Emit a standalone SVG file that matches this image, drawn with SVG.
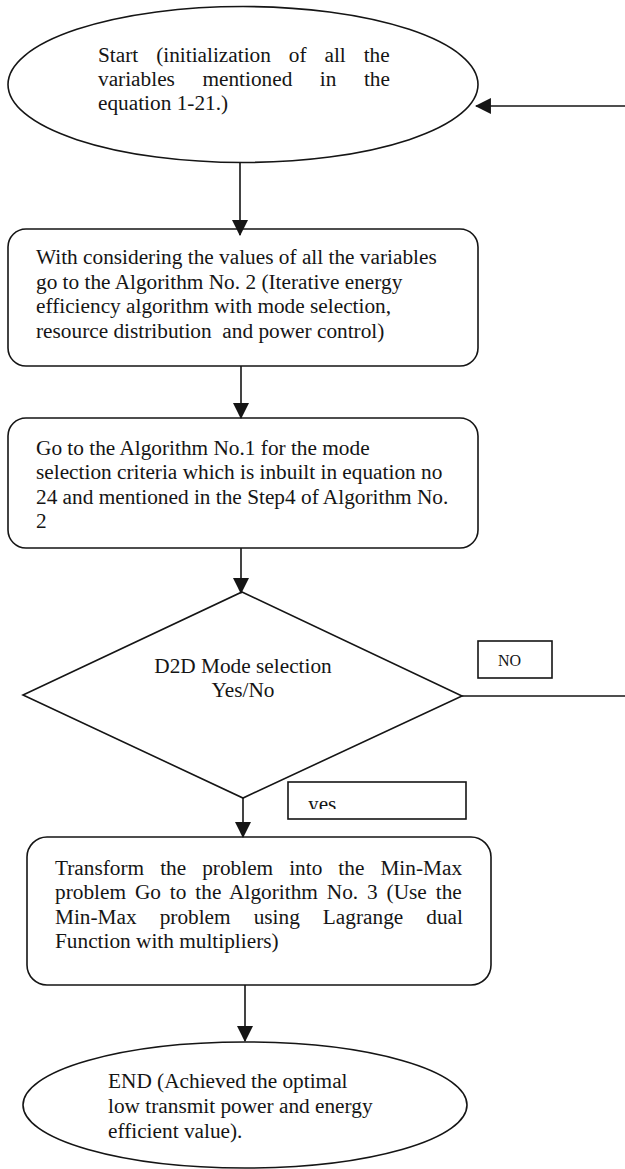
<svg xmlns="http://www.w3.org/2000/svg" width="625" height="1169" viewBox="0 0 625 1169">
<style>
.s{fill:none;stroke:#151515;stroke-width:1.6}
.t{font-family:"Liberation Serif","Times New Roman",serif;font-size:21.3px;fill:#151515}
.c{text-anchor:middle}
.sm{font-size:16px}
.ln{fill:none;stroke:#151515;stroke-width:1.6}
</style>
<defs>
<marker id="ah" markerUnits="userSpaceOnUse" markerWidth="16" markerHeight="16" viewBox="0 0 15 15" refX="14" refY="7.5" orient="auto">
<path d="M0,0 L15,7.5 L0,15 z" fill="#151515"/>
</marker>
<clipPath id="yesclip"><rect x="289" y="783" width="176" height="26"/></clipPath>
</defs>
<rect width="625" height="1169" fill="#fff"/>
<g id="connectors">
<line class="ln" x1="625" y1="106" x2="476" y2="106" marker-end="url(#ah)"/>
<line class="ln" x1="240" y1="163" x2="240" y2="235" marker-end="url(#ah)"/>
<line class="ln" x1="241" y1="366" x2="241" y2="418" marker-end="url(#ah)"/>
<line class="ln" x1="241" y1="548" x2="241" y2="593" marker-end="url(#ah)"/>
<line class="ln" x1="243" y1="798" x2="243" y2="837" marker-end="url(#ah)"/>
<line class="ln" x1="245" y1="985" x2="245" y2="1041" marker-end="url(#ah)"/>
<line class="ln" x1="462" y1="696" x2="625" y2="696"/>
</g>
<g id="start">
<ellipse class="s" cx="243" cy="84.5" rx="235" ry="78"/>
<text class="t" x="98" y="62" word-spacing="12.6">Start (initialization of all the</text>
<text class="t" x="98" y="86" word-spacing="22.2">variables mentioned in the</text>
<text class="t" x="98" y="110">equation 1-21.)</text>
</g>
<g id="box1">
<rect class="s" x="8" y="229" width="470" height="137" rx="18"/>
<text class="t" x="36" y="264">With considering the values of all the variables</text>
<text class="t" x="36" y="288.5">go to the Algorithm No. 2 (Iterative energy</text>
<text class="t" x="36" y="313">efficiency algorithm with mode selection,</text>
<text class="t" x="36" y="337.5" xml:space="preserve">resource distribution  and power control)</text>
</g>
<g id="box2">
<rect class="s" x="8" y="418" width="470" height="130" rx="18"/>
<text class="t" x="36" y="455">Go to the Algorithm No.1 for the mode</text>
<text class="t" x="36" y="479">selection criteria which is inbuilt in equation no</text>
<text class="t" x="36" y="503.5">24 and mentioned in the Step4 of Algorithm No.</text>
<text class="t" x="36" y="528">2</text>
</g>
<g id="decision">
<polygon class="s" points="242,592 462,696 243,798 23,695"/>
<text class="t c" x="243" y="673">D2D Mode selection</text>
<text class="t c" x="243" y="697">Yes/No</text>
</g>
<g id="no-label">
<rect class="s" x="478" y="641" width="74" height="37"/>
<text class="t sm" x="498" y="666">NO</text>
</g>
<g id="yes-label">
<rect class="s" x="288" y="782" width="178" height="37"/>
<text class="t" x="308" y="811" clip-path="url(#yesclip)">yes</text>
</g>
<g id="box3">
<rect class="s" x="27" y="837" width="464" height="148" rx="20"/>
<text class="t" x="55" y="875" word-spacing="10.7">Transform the problem into the Min-Max</text>
<text class="t" x="55" y="899" word-spacing="3.6">problem Go to the Algorithm No. 3 (Use the</text>
<text class="t" x="55" y="923.5" word-spacing="17.7">Min-Max problem using Lagrange dual</text>
<text class="t" x="55" y="948">Function with multipliers)</text>
</g>
<g id="end">
<ellipse class="s" cx="245" cy="1105" rx="222" ry="63"/>
<text class="t" x="108" y="1088">END (Achieved the optimal</text>
<text class="t" x="108" y="1113">low transmit power and energy</text>
<text class="t" x="108" y="1138">efficient value).</text>
</g>
</svg>
